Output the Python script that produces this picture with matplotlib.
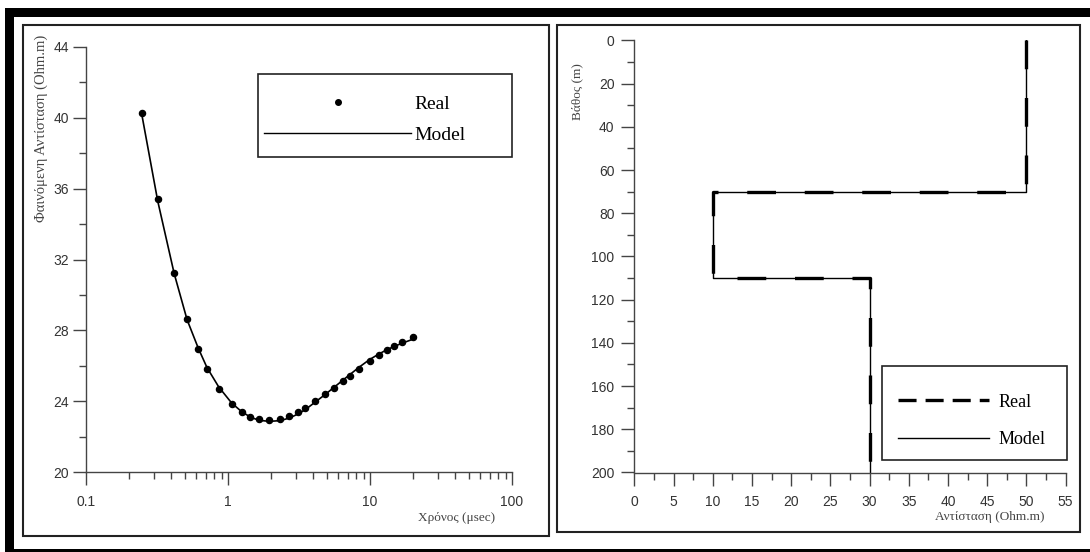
import numpy as np
import matplotlib
matplotlib.use("Agg")
import matplotlib.pyplot as plt
from matplotlib.lines import Line2D
from matplotlib.patches import Rectangle
from matplotlib.ticker import LogLocator, NullFormatter, MultipleLocator

# left panel: apparent resistivity curve
time_us = [0.247, 0.320, 0.418, 0.515, 0.617, 0.711, 0.861, 1.06, 1.25, 1.44,
           1.65, 1.95, 2.33, 2.71, 3.12, 3.50, 4.07, 4.84, 5.62, 6.43,
           7.21, 8.39, 9.93, 11.48, 13.10, 14.71, 16.90, 20.1]
rho_real = [40.27, 35.41, 31.23, 28.65, 26.96, 25.81, 24.70, 23.83, 23.37, 23.09,
            22.98, 22.94, 23.01, 23.17, 23.39, 23.61, 23.99, 24.38, 24.76, 25.12,
            25.43, 25.83, 26.25, 26.59, 26.88, 27.10, 27.36, 27.62]
rho_model = [40.20, 35.30, 31.20, 28.60, 27.00, 25.90, 24.80, 23.90, 23.40, 23.10,
             22.92, 22.86, 22.90, 23.05, 23.28, 23.52, 23.92, 24.38, 24.80, 25.18,
             25.50, 25.92, 26.35, 26.65, 26.90, 27.08, 27.28, 27.50]

# right panel: layered model
layer_edges = [0, 70, 110, 200]
layer_rho_real = [50, 10, 30]
layer_rho_model = [50, 10, 30]

x_ticks_left = [0.1, 1, 10, 100]
x_labels_left = ["0.1", "1", "10", "100"]

plt.rcParams['lines.scale_dashes'] = False
tick_family = 'Liberation Sans'
tick_size = 10
serif = 'Liberation Serif'
W, H = 1090, 552
fig = plt.figure(figsize=(W / 100, H / 100), dpi=100)


def fig_rect(x0, y0, x1, y1, **kw):
    # pixel box (top-left origin) -> figure rectangle
    r = Rectangle((x0 / W, 1 - y1 / H), (x1 - x0) / W, (y1 - y0) / H, transform=fig.transFigure, **kw)
    fig.add_artist(r)
    return r


# outer frame
fig_rect(5, 8, W, 17, color='black', lw=0)
fig_rect(5, 8, 14, H, color='black', lw=0)
fig_rect(5, 549, W, H, color='black', lw=0)
# panel boxes
fig_rect(23, 25, 549, 536, fill=False, ec='#222', lw=1.5)
fig_rect(557, 25, 1080, 532, fill=False, ec='#222', lw=1.5)
# legend frames
fig_rect(258, 74, 512, 157, fill=False, ec='#222', lw=1.2, zorder=5)
fig_rect(881.6, 366, 1066.5, 459.5, fill=False, ec='#222', lw=1.2, zorder=5)


def style_axes(ax):
    for s in ['top', 'right']:
        ax.spines[s].set_visible(False)
    for s in ['left', 'bottom']:
        ax.spines[s].set_color('#444')
        ax.spines[s].set_linewidth(1.0)
    ax.tick_params(which='both', direction='out', color='#444', width=1.0, labelcolor='#333')
    ax.tick_params(which='major', length=9.3)
    ax.tick_params(which='minor', length=4.8)
    ax.tick_params(axis='x', which='major', pad=7)
    for lab in ax.get_xticklabels() + ax.get_yticklabels():
        lab.set_fontfamily(tick_family)
        lab.set_fontsize(tick_size)


# ---- left
ax1 = fig.add_axes([86 / W, 1 - 472 / H, (512 - 86) / W, (472 - 47) / H])
ax1.set_xscale('log')
ax1.plot(time_us, rho_model, color='black', lw=1.2)
ax1.plot(time_us, rho_real, 'o', color='black', ms=4.4)
ax1.set_xlim(0.1, 100)
ax1.set_ylim(20, 44)
ax1.set_xticks(x_ticks_left, labels=x_labels_left)
ax1.xaxis.set_minor_locator(LogLocator(base=10, subs=np.arange(2, 10)))
ax1.xaxis.set_minor_formatter(NullFormatter())
ax1.set_yticks(np.arange(20, 45, 4))
ax1.yaxis.set_minor_locator(MultipleLocator(2))
ax1.tick_params(axis='y', which='major', pad=3)
style_axes(ax1)
ax1.set_xlabel("Χρόνος (μsec)", family=serif, fontsize=9.5, color='#444', ha='right', va='center')
ax1.xaxis.set_label_coords(0.96, -0.108)
ax1.set_ylabel("Φαινόμενη Αντίσταση (Ohm.m)", family=serif, fontsize=10.5, color='#444')
ax1.yaxis.label.set_rotation_mode('anchor')
ax1.yaxis.label.set_ha('right')
ax1.yaxis.label.set_va('center')
ax1.yaxis.set_label_coords(-0.106, 1.028)

h1 = [Line2D([], [], ls='none', marker='o', ms=4, color='black'),
      Line2D([], [], color='black', lw=1.0)]
leg1 = ax1.legend(h1, ["Real", "Model"], loc='upper left', bbox_to_anchor=(264 / W, 1 - 95.2 / H),
                  bbox_transform=fig.transFigure, borderaxespad=0, frameon=False,
                  prop={'family': serif, 'size': 14}, handlelength=7.56, handletextpad=0.2,
                  borderpad=0, labelspacing=0.68)

# ---- right
ax2 = fig.add_axes([634.4 / W, 1 - 472.5 / H, (1065.5 - 634.4) / W, (472.5 - 40.5) / H])
xm = np.repeat(layer_rho_model, 2)
ym = np.repeat(layer_edges, 2)[1:-1]
xr = np.repeat(layer_rho_real, 2)
yr = np.repeat(layer_edges, 2)[1:-1]
ax2.plot(xm, ym, color='black', lw=1.0)
ax2.plot(xr, yr, color='black', lw=2.4, ls=(0, (20.7, 20.7)))
ax2.set_xlim(0, 55)
ax2.set_ylim(200, 0)
ax2.set_xticks(np.arange(0, 56, 5))
ax2.xaxis.set_minor_locator(MultipleLocator(2.5))
ax2.set_yticks(np.arange(0, 201, 20))
ax2.yaxis.set_minor_locator(MultipleLocator(10))
ax2.tick_params(axis='y', which='major', pad=5)
style_axes(ax2)
ax2.set_xlabel("Αντίσταση (Ohm.m)", family=serif, fontsize=9.5, color='#444', ha='right', va='center')
ax2.xaxis.set_label_coords(0.952, -0.103)
ax2.set_ylabel("Βάθος (m)", family=serif, fontsize=9.5, color='#444')
ax2.yaxis.label.set_rotation_mode('anchor')
ax2.yaxis.label.set_ha('right')
ax2.yaxis.label.set_va('center')
ax2.yaxis.set_label_coords(-0.132, 0.948)

h2 = [Line2D([], [], color='black', lw=2.4, ls=(0, (13, 6.5))),
      Line2D([], [], color='black', lw=1.0)]
leg2 = ax2.legend(h2, ["Real", "Model"], loc='upper left', bbox_to_anchor=(898 / W, 1 - 393.8 / H),
                  bbox_transform=fig.transFigure, borderaxespad=0, frameon=False,
                  prop={'family': serif, 'size': 13}, handlelength=5.04, handletextpad=0.5,
                  borderpad=0, labelspacing=1.13)

fig.savefig("out.png", dpi=100)
